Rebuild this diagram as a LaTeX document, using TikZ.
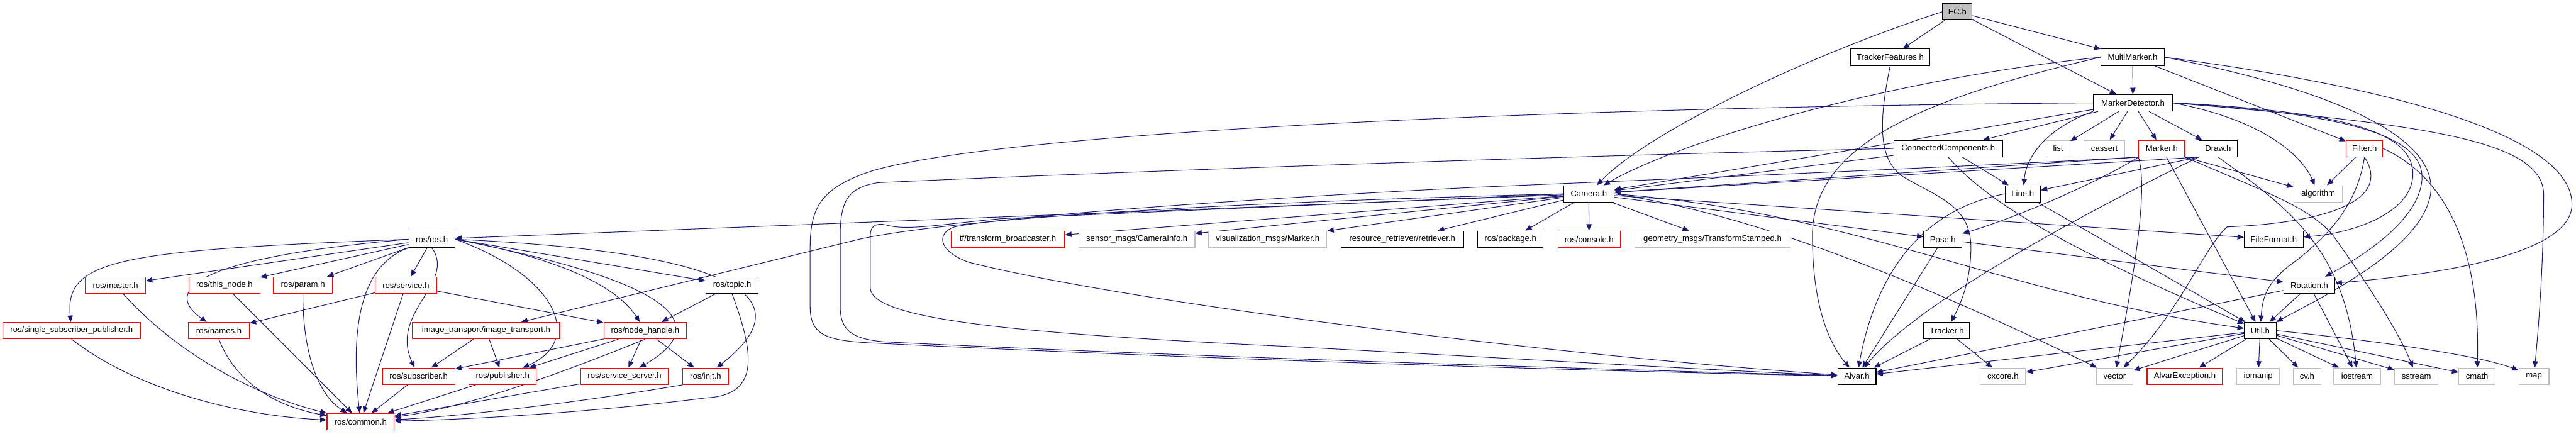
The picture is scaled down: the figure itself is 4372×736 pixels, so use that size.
\documentclass[tikz,border=0pt]{standalone}
\usepackage{fontspec}
\setmainfont{Liberation Sans}
\usetikzlibrary{arrows.meta}
\definecolor{edgec}{HTML}{191970}
\definecolor{grayb}{HTML}{BFBFBF}
\pgfdeclarelayer{bg}
\pgfsetlayers{bg,main}
\begin{document}
\begin{tikzpicture}[x=0.5pt,y=-0.5pt,
  box/.style={rectangle, inner sep=0pt, minimum height=14pt, font=\fontsize{7}{8}\selectfont, line width=0.6pt},
  doc/.style={box, draw=black, fill=white},
  ext/.style={box, draw=grayb, fill=white},
  trunc/.style={box, draw=red, fill=white},
  mainn/.style={box, draw=black, fill=grayb},
  dep/.style={draw=edgec, line width=0.55pt, -{Triangle[length=5.5pt,width=4.5pt]}},
]
\useasboundingbox (0,0) rectangle (4372,736);
% ---------- nodes ----------
\node[mainn, minimum width=25pt] (EC) at (3322,20) {EC.h};
\node[doc, minimum width=67pt] (TF) at (3208,97) {TrackerFeatures.h};
\node[doc, minimum width=53.5pt] (MM) at (3619.5,97) {MultiMarker.h};
\node[doc, minimum width=67pt] (MD) at (3620,174.5) {MarkerDetector.h};
\node[doc, minimum width=92.5pt] (CC) at (3306.5,252) {ConnectedComponents.h};
\node[ext, minimum width=20pt] (list) at (3493,252) {list};
\node[ext, minimum width=34.5pt] (cassert) at (3571.5,252) {cassert};
\node[trunc, minimum width=39pt] (Marker) at (3669,252) {Marker.h};
\node[doc, minimum width=32.5pt] (Draw) at (3764.5,252) {Draw.h};
\node[trunc, minimum width=31pt] (Filter) at (4013,252) {Filter.h};
\node[doc, minimum width=42.5pt] (Camera) at (2696.5,329) {Camera.h};
\node[doc, minimum width=30pt] (Line) at (3433,329) {Line.h};
\node[ext, minimum width=41.5pt] (algorithm) at (3934.5,329) {algorithm};
\node[doc, minimum width=39pt] (rosros) at (733,406) {ros/ros.h};
\node[trunc, minimum width=96.5pt] (tfb) at (1710.5,406) {tf/transform\_broadcaster.h};
\node[ext, minimum width=98.5pt] (sensor) at (1929.5,406) {sensor\_msgs/CameraInfo.h};
\node[ext, minimum width=100.5pt] (vis) at (2151.5,406) {visualization\_msgs/Marker.h};
\node[doc, minimum width=104pt] (rr) at (2380,406) {resource\_retriever/retriever.h};
\node[doc, minimum width=55.5pt] (pkg) at (2563.5,406) {ros/package.h};
\node[trunc, minimum width=53pt] (console) at (2697,406) {ros/console.h};
\node[ext, minimum width=131.5pt] (geom) at (2906.5,406) {geometry\_msgs/TransformStamped.h};
\node[doc, minimum width=32.5pt] (Pose) at (3297.5,406) {Pose.h};
\node[doc, minimum width=50pt] (FileFormat) at (3859,406) {FileFormat.h};
\node[trunc, minimum width=51pt] (master) at (196,484) {ros/master.h};
\node[trunc, minimum width=60pt] (thisnode) at (381,484) {ros/this\_node.h};
\node[trunc, minimum width=50pt] (param) at (514,484) {ros/param.h};
\node[trunc, minimum width=52pt] (service) at (689,484) {ros/service.h};
\node[doc, minimum width=44.5pt] (topic) at (1242.5,484) {ros/topic.h};
\node[doc, minimum width=43.5pt] (Rotation) at (3919.5,484) {Rotation.h};
\node[trunc, minimum width=116.5pt] (ssp) at (121.5,561) {ros/single\_subscriber\_publisher.h};
\node[trunc, minimum width=51.5pt] (names) at (371.5,561) {ros/names.h};
\node[trunc, minimum width=125pt] (it) at (825,561) {image\_transport/image\_transport.h};
\node[trunc, minimum width=70pt] (nh) at (1095,561) {ros/node\_handle.h};
\node[doc, minimum width=39pt] (Tracker) at (3304,561) {Tracker.h};
\node[doc, minimum width=27pt] (Util) at (3836,561) {Util.h};
\node[trunc, minimum width=61.5pt] (sub) at (710.5,638.5) {ros/subscriber.h};
\node[trunc, minimum width=57pt] (pub) at (853,638.5) {ros/publisher.h};
\node[trunc, minimum width=74pt] (ss) at (1060,638.5) {ros/service\_server.h};
\node[trunc, minimum width=38.5pt] (init) at (1197.5,638.5) {ros/init.h};
\node[doc, minimum width=32.5pt] (Alvar) at (3151.5,638.5) {Alvar.h};
\node[ext, minimum width=38.5pt] (cxcore) at (3399.5,638.5) {cxcore.h};
\node[ext, minimum width=31pt] (vector) at (3589,638.5) {vector};
\node[trunc, minimum width=64pt] (AE) at (3708,638.5) {AlvarException.h};
\node[ext, minimum width=36.5pt] (iomanip) at (3832.5,638.5) {iomanip};
\node[ext, minimum width=23.5pt] (cv) at (3915.5,638.5) {cv.h};
\node[ext, minimum width=39.5pt] (iostream) at (4000.5,638.5) {iostream};
\node[ext, minimum width=37pt] (sstream) at (4101,638.5) {sstream};
\node[ext, minimum width=31pt] (cmath) at (4204,638.5) {cmath};
\node[ext, minimum width=25.5pt] (map) at (4300.5,638.5) {map};
\node[trunc, minimum width=57pt] (common) at (612,715.5) {ros/common.h};
% ---------- edges ----------
\begin{pgfonlayer}{bg}
% ros/ros.h
\draw[dep] (rosros.west) .. controls (200,425) and (110,440) .. (ssp);
\draw[dep] (rosros) -- (master);
\draw[dep] (rosros.west) .. controls (300,440) and (285,500) .. (names);
\draw[dep] (rosros) -- (thisnode);
\draw[dep] (rosros) -- (param);
\draw[dep] (rosros.south west) .. controls (610,450) and (595,560) .. (common);
\draw[dep] (rosros) -- (service);
\draw[dep] (rosros.south) .. controls (775,480) and (660,530) .. (sub);
\draw[dep] (rosros.east) .. controls (950,470) and (990,580) .. (pub);
\draw[dep] (rosros.east) .. controls (960,440) and (1050,490) .. (nh);
\draw[dep] (rosros.east) .. controls (1100,470) and (1230,540) .. (ss);
\draw[dep] (rosros.east) -- (topic);
\draw[dep] (rosros.east) .. controls (1300,430) and (1350,520) .. (init);
% ros others
\draw[dep] (service) -- (names);
\draw[dep] (service) -- (common);
\draw[dep] (service) -- (nh);
\draw[dep] (master) .. controls (300,600) and (430,670) .. (common);
\draw[dep] (thisnode) -- (common);
\draw[dep] (param.south) .. controls (514,600) and (540,670) .. (common);
\draw[dep] (names.south) .. controls (400,650) and (470,690) .. (common);
\draw[dep] (ssp.south) .. controls (230,660) and (400,705) .. (common);
\draw[dep] (sub) -- (common);
\draw[dep] (pub) -- (common);
\draw[dep] (ss) -- (common);
\draw[dep] (init.south west) .. controls (1000,680) and (800,705) .. (common);
\draw[dep] (nh.south) .. controls (960,630) and (800,690) .. (common);
\draw[dep] (topic.south) .. controls (1280,600) and (1290,670) .. (1200,675) .. controls (1000,700) and (800,712) .. (common);
\draw[dep] (topic) -- (nh);
\draw[dep] (nh) -- (sub);
\draw[dep] (nh) -- (pub);
\draw[dep] (nh) -- (ss);
\draw[dep] (nh) -- (init);
\draw[dep] (it) -- (sub);
\draw[dep] (it) -- (pub);
% Camera.h
\draw[dep] (Camera) -- (rosros);
\draw[dep] (Camera.west) .. controls (2000,345) and (1600,375) .. (1458,406) -- (it);
\draw[dep] (Camera) -- (tfb);
\draw[dep] (Camera) -- (sensor);
\draw[dep] (Camera) -- (vis);
\draw[dep] (Camera) -- (rr);
\draw[dep] (Camera) -- (pkg);
\draw[dep] (Camera) -- (console);
\draw[dep] (Camera) -- (geom);
\draw[dep] (Camera) -- (Pose);
\draw[dep] (Camera) -- (FileFormat);
\draw[dep] (Camera.east) .. controls (3150,360) and (3400,500) .. (Util);
\draw[dep] (Camera.east) .. controls (2950,360) and (3200,450) .. (vector);
\draw[dep] (Camera.west) .. controls (2300,345) and (1900,362) .. (1700,371) .. controls (1600,380) and (1540,392) .. (1505,382) .. controls (1485,377) and (1477,385) .. (1477,400) -- (1477,488) .. controls (1477,540) and (1700,565) .. (2187,588) .. controls (2600,610) and (2900,628) .. (Alvar);
% EC.h
\draw[dep] (EC.west) .. controls (3050,100) and (2790,230) .. (Camera);
\draw[dep] (EC) -- (TF);
\draw[dep] (EC) -- (MD);
\draw[dep] (EC) -- (MM);
% TrackerFeatures
\draw[dep] (TF.south) .. controls (3190,200) and (3185,270) .. (3230,300) .. controls (3290,335) and (3345,350) .. (3345,420) .. controls (3345,480) and (3325,520) .. (Tracker);
% MultiMarker
\draw[dep] (MM) -- (MD);
\draw[dep] (MM.west) .. controls (3200,135) and (2850,240) .. (Camera);
\draw[dep] (MM.west) .. controls (3250,170) and (3076,250) .. (3076,400) .. controls (3076,530) and (3110,590) .. (Alvar);
\draw[dep] (MM) -- (Filter);
\draw[dep] (MM.east) .. controls (3950,150) and (4140,230) .. (4125,330) .. controls (4110,420) and (3950,500) .. (Util);
\draw[dep] (MM.east) .. controls (4150,160) and (4370,250) .. (4365,350) .. controls (4360,430) and (4150,465) .. (Rotation);
% MarkerDetector
\draw[dep] (MD) -- (CC);
\draw[dep] (MD) -- (list);
\draw[dep] (MD) -- (cassert);
\draw[dep] (MD) -- (Marker);
\draw[dep] (MD) -- (Draw);
\draw[dep] (MD.south west) .. controls (3480,215) and (3440,260) .. (Line);
\draw[dep] (MD) -- (Camera);
\draw[dep] (MD.west) .. controls (2600,182) and (1700,225) .. (1480,290) .. controls (1395,318) and (1375,350) .. (1375,420) -- (1375,520) .. controls (1375,568) and (1400,578) .. (1480,582) .. controls (2000,608) and (2700,630) .. (Alvar);
\draw[dep] (MD.east) .. controls (3850,205) and (3910,270) .. (algorithm);
\draw[dep] (MD.east) .. controls (4100,210) and (4317,235) .. (4317,330) .. controls (4317,450) and (4308,560) .. (map);
\draw[dep] (MD.east) .. controls (4000,190) and (4100,230) .. (4095,300) .. controls (4090,360) and (4000,395) .. (FileFormat);
\draw[dep] (MD.east) .. controls (4020,195) and (4120,240) .. (4110,310) .. controls (4100,380) and (4000,440) .. (Rotation);
% ConnectedComponents
\draw[dep] (CC) -- (Camera);
\draw[dep] (CC) -- (Line);
\draw[dep] (CC.west) .. controls (2500,268) and (1700,300) .. (1490,310) .. controls (1440,318) and (1426,340) .. (1426,400) -- (1426,520) .. controls (1426,560) and (1445,575) .. (1500,580) .. controls (2000,605) and (2700,626) .. (Alvar);
\draw[dep] (CC.south) .. controls (3370,340) and (3500,420) .. (Util);
% Marker
\draw[dep] (Marker.south west) -- (Camera);
\draw[dep] (Marker.south west) .. controls (3560,310) and (3420,370) .. (Pose);
\draw[dep] (Marker.south east) -- (algorithm);
\draw[dep] (Marker) -- (Util);
\draw[dep] (Marker.south west) .. controls (3645,320) and (3625,450) .. (vector);
\draw[dep] (Marker.south east) .. controls (3830,320) and (3920,350) .. (3960,400) .. controls (4010,470) and (4070,560) .. (sstream);
\draw[dep] (Marker.south west) .. controls (3300,285) and (2800,305) .. (2500,318) .. controls (2100,338) and (1700,368) .. (1620,385) .. controls (1590,395) and (1590,425) .. (1644,445) .. controls (1900,510) and (2600,600) .. (Alvar);
% Draw
\draw[dep] (Draw.south west) -- (Camera);
\draw[dep] (Draw.south west) -- (Line);
\draw[dep] (Draw.south west) .. controls (3500,380) and (3250,520) .. (Alvar);
\draw[dep] (Draw.south) .. controls (3880,350) and (3980,420) .. (iostream);
% Filter
\draw[dep] (Filter) -- (algorithm);
\draw[dep] (Filter.east) .. controls (4150,300) and (4210,420) .. (cmath);
\draw[dep] (Filter.south) .. controls (4000,350) and (3950,400) .. (3900,440) .. controls (3850,475) and (3840,500) .. (Util);
\draw[dep] (Filter.south) .. controls (4060,340) and (3950,378) .. (3780,385) .. controls (3740,420) and (3700,530) .. (vector);
% Line
\draw[dep] (Line.west) .. controls (3290,350) and (3190,430) .. (Alvar);
\draw[dep] (Line) -- (Util);
% Pose, Rotation, Tracker
\draw[dep] (Pose) -- (Alvar);
\draw[dep] (Pose) -- (Rotation);
\draw[dep] (Rotation) -- (Alvar);
\draw[dep] (Rotation) -- (Util);
\draw[dep] (Rotation) -- (iostream);
\draw[dep] (Tracker) -- (Alvar);
\draw[dep] (Tracker) -- (cxcore);
% Util
\draw[dep] (Util) -- (Alvar);
\draw[dep] (Util) -- (cxcore);
\draw[dep] (Util) -- (vector);
\draw[dep] (Util) -- (AE);
\draw[dep] (Util) -- (iomanip);
\draw[dep] (Util) -- (cv);
\draw[dep] (Util) -- (iostream);
\draw[dep] (Util) -- (sstream);
\draw[dep] (Util) -- (cmath);
\draw[dep] (Util.east) .. controls (4000,575) and (4200,600) .. (map);
\end{pgfonlayer}
\end{tikzpicture}
\end{document}
